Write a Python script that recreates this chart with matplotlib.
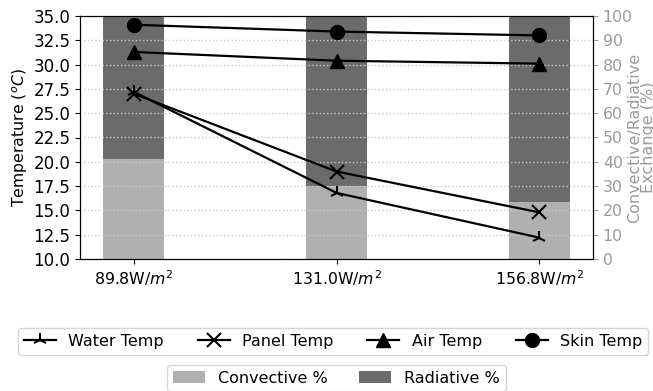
import matplotlib
matplotlib.use("Agg")
import matplotlib.pyplot as plt
import numpy as np

categories = [r"89.8W/$m^2$", r"131.0W/$m^2$", r"156.8W/$m^2$"]
water_temp = [27.2, 16.8, 12.2]
panel_temp = [27.0, 19.0, 14.8]
air_temp = [31.3, 30.4, 30.1]
skin_temp = [34.1, 33.4, 33.0]
convective_pct = [41.2, 30.0, 23.4]
radiative_pct = [58.8, 70.0, 76.6]

x = np.arange(len(categories))

fig = plt.figure(figsize=(6.53, 3.91), dpi=100)
ax1 = fig.add_axes([80/653, 1 - 259/391, (593-80)/653, (259-16)/391])
ax2 = ax1.twinx()

grey_txt = "#9a9a9a"
ax2.bar(x, convective_pct, width=0.3, color="#b0b0b0", label="Convective %")
ax2.bar(x, radiative_pct, width=0.3, bottom=convective_pct, color="#6b6b6b", label="Radiative %")
ax2.set_ylim(0, 100)
ax2.set_yticks(np.arange(0, 101, 10))
ax2.grid(True, axis="y", linestyle=":", color="#c8c8c8", linewidth=1.0)
ax2.set_axisbelow(False)
ax2.tick_params(axis="y", colors=grey_txt, labelsize=11.3)
ax2.set_ylabel("Convective/Radiative\nExchange (%)", color=grey_txt, fontsize=11.5,
               linespacing=0.95)
ax2.yaxis.set_label_coords(1.066, 0.5)

ax1.set_zorder(ax2.get_zorder() + 1)
ax1.patch.set_visible(False)
kw = dict(color="black", linewidth=1.6, markersize=10)
l1, = ax1.plot(x, water_temp, marker="2", markeredgewidth=1.5, label="Water Temp", **kw)
l2, = ax1.plot(x, panel_temp, marker="x", markeredgewidth=1.5, label="Panel Temp", **kw)
l3, = ax1.plot(x, air_temp, marker="^", label="Air Temp", **kw)
l4, = ax1.plot(x, skin_temp, marker="o", label="Skin Temp", **kw)
ax1.set_ylim(10, 35)
ax1.set_yticks(np.arange(10, 35.1, 2.5))
ax1.set_yticklabels([f"{v:.1f}" for v in np.arange(10, 35.1, 2.5)])
ax1.set_xticks(x)
ax1.set_xticklabels(categories)
ax1.tick_params(axis="y", labelsize=12)
ax1.tick_params(axis="x", labelsize=11.3)
ax1.set_ylabel(r"Temperature ($^oC$)", fontsize=11.3, labelpad=2)
ax1.set_xlim(-0.265, 2.265)

cx = (80 + 593) / 2 / 653
fig.legend(handles=[l1, l2, l3, l4], loc="center", bbox_to_anchor=(cx - 0.005, 0.1266),
           ncol=4, fontsize=11.5, borderpad=0.35, columnspacing=2.1)
h, lab = ax2.get_legend_handles_labels()
fig.legend(h, lab, loc="upper center", bbox_to_anchor=(cx, 0.087), ncol=2,
           fontsize=11.5, borderpad=0.35)

fig.savefig("out.png", dpi=100)
